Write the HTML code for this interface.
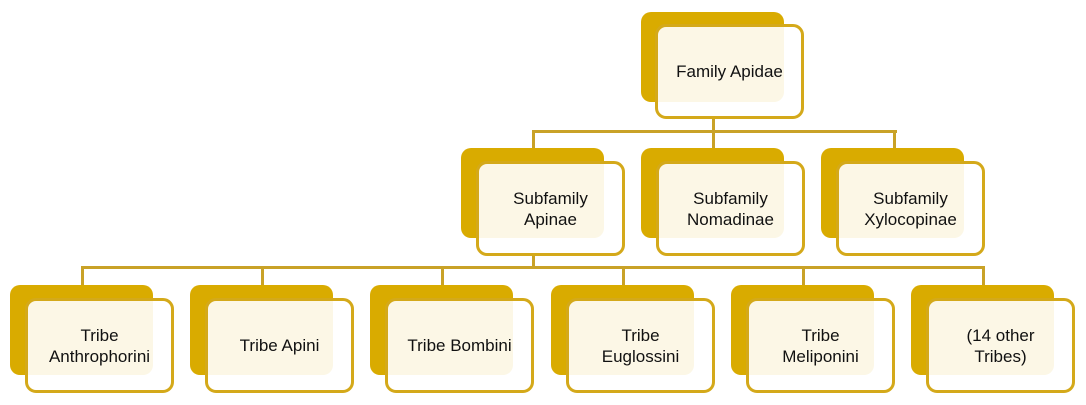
<!DOCTYPE html>
<html><head><style>
body{margin:0;width:1086px;height:405px;background:#fff;position:relative;overflow:hidden;font-family:"Liberation Sans",sans-serif}
.b{position:absolute;width:143px;height:90px;background:#D9AB00;border-radius:10px}
.f{position:absolute;width:143px;height:89px;border:3px solid #D4A91A;border-radius:11px;background:rgba(255,255,255,0.9);display:flex;align-items:center;justify-content:center;text-align:center;font-size:17px;line-height:21px;color:#111}
.l{position:absolute;background:#C9A227}
</style></head><body>
<div class="l" style="left:712px;top:118px;width:3px;height:15px"></div>
<div class="l" style="left:532px;top:130px;width:365px;height:3px"></div>
<div class="l" style="left:532px;top:130px;width:3px;height:20px"></div>
<div class="l" style="left:712px;top:130px;width:3px;height:20px"></div>
<div class="l" style="left:893px;top:130px;width:3px;height:20px"></div>
<div class="l" style="left:532px;top:254px;width:3px;height:15px"></div>
<div class="l" style="left:81px;top:266px;width:904px;height:3px"></div>
<div class="l" style="left:81px;top:266px;width:3px;height:20px"></div>
<div class="l" style="left:261px;top:266px;width:3px;height:20px"></div>
<div class="l" style="left:441px;top:266px;width:3px;height:20px"></div>
<div class="l" style="left:622px;top:266px;width:3px;height:20px"></div>
<div class="l" style="left:802px;top:266px;width:3px;height:20px"></div>
<div class="l" style="left:982px;top:266px;width:3px;height:20px"></div>

<div class="b" style="left:641px;top:12px"></div><div class="f" style="left:655px;top:24px">Family Apidae</div>

<div class="b" style="left:461px;top:148px"></div><div class="f" style="left:476px;top:161px">Subfamily<br>Apinae</div>
<div class="b" style="left:641px;top:148px"></div><div class="f" style="left:656px;top:161px">Subfamily<br>Nomadinae</div>
<div class="b" style="left:821px;top:148px"></div><div class="f" style="left:836px;top:161px">Subfamily<br>Xylocopinae</div>

<div class="b" style="left:10px;top:285px"></div><div class="f" style="left:25px;top:298px">Tribe<br>Anthrophorini</div>
<div class="b" style="left:190px;top:285px"></div><div class="f" style="left:205px;top:298px">Tribe Apini</div>
<div class="b" style="left:370px;top:285px"></div><div class="f" style="left:385px;top:298px">Tribe Bombini</div>
<div class="b" style="left:551px;top:285px"></div><div class="f" style="left:566px;top:298px">Tribe<br>Euglossini</div>
<div class="b" style="left:731px;top:285px"></div><div class="f" style="left:746px;top:298px">Tribe<br>Meliponini</div>
<div class="b" style="left:911px;top:285px"></div><div class="f" style="left:926px;top:298px">(14 other<br>Tribes)</div>
</body></html>
